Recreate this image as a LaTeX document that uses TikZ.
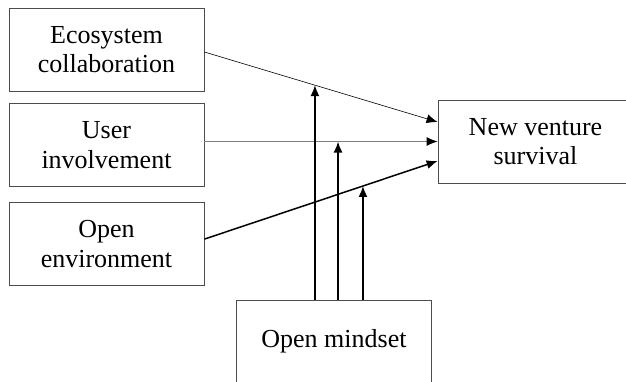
\documentclass[tikz,border=0pt]{standalone}
\usepackage{fontspec}
\setmainfont{Liberation Serif}
\usetikzlibrary{arrows.meta,positioning}

\begin{document}
\begin{tikzpicture}[x=1pt,y=-1pt,
    font=\fontsize{26}{29.5}\selectfont,
    box/.style={draw=gray!60!black,
      line width=0.8pt,
      minimum width=195pt,
      minimum height=83pt,
      inner sep=0pt,
      align=center},
    >={Latex[length=11pt,width=9pt,color=black]}]
  \useasboundingbox (0,0) rectangle (626,381);
  % Add the boxes
  \node[box] (eco) at (106.5,49.5) {Ecosystem\\collaboration};
  \node[box,
    below=12pt of eco] (user) {User\\involvement};
  \node[box,
    below=15pt of user] (env) {Open\\environment};
  \node[box] (nvs) at (535.5,141.5) {New venture\\survival};
  \node[box] (mind) at (334,341.5) {Open mindset};
  % Connect the boxes
  \draw[->, line width=0.6pt]
    ([yshift=-2.5pt]eco.east) -- coordinate[pos=0.474] (m1) ([yshift=19.5pt]nvs.west);
  \draw[->, line width=0.9pt, draw=gray]
    (user.east |- nvs.west) -- coordinate[pos=0.573] (m2) (nvs.west);
  \draw[->, line width=1.5pt]
    ([yshift=5pt]env.east) -- coordinate[pos=0.68] (m3) ([yshift=-19.5pt]nvs.west);
  % Moderating arrows
  \draw[->, line width=1.4pt] (mind.north -| m1) -- (m1);
  \draw[->, line width=1.6pt] (mind.north -| m2) -- (m2);
  \draw[->, line width=1.6pt] (mind.north -| m3) -- (m3);
\end{tikzpicture}
\end{document}
